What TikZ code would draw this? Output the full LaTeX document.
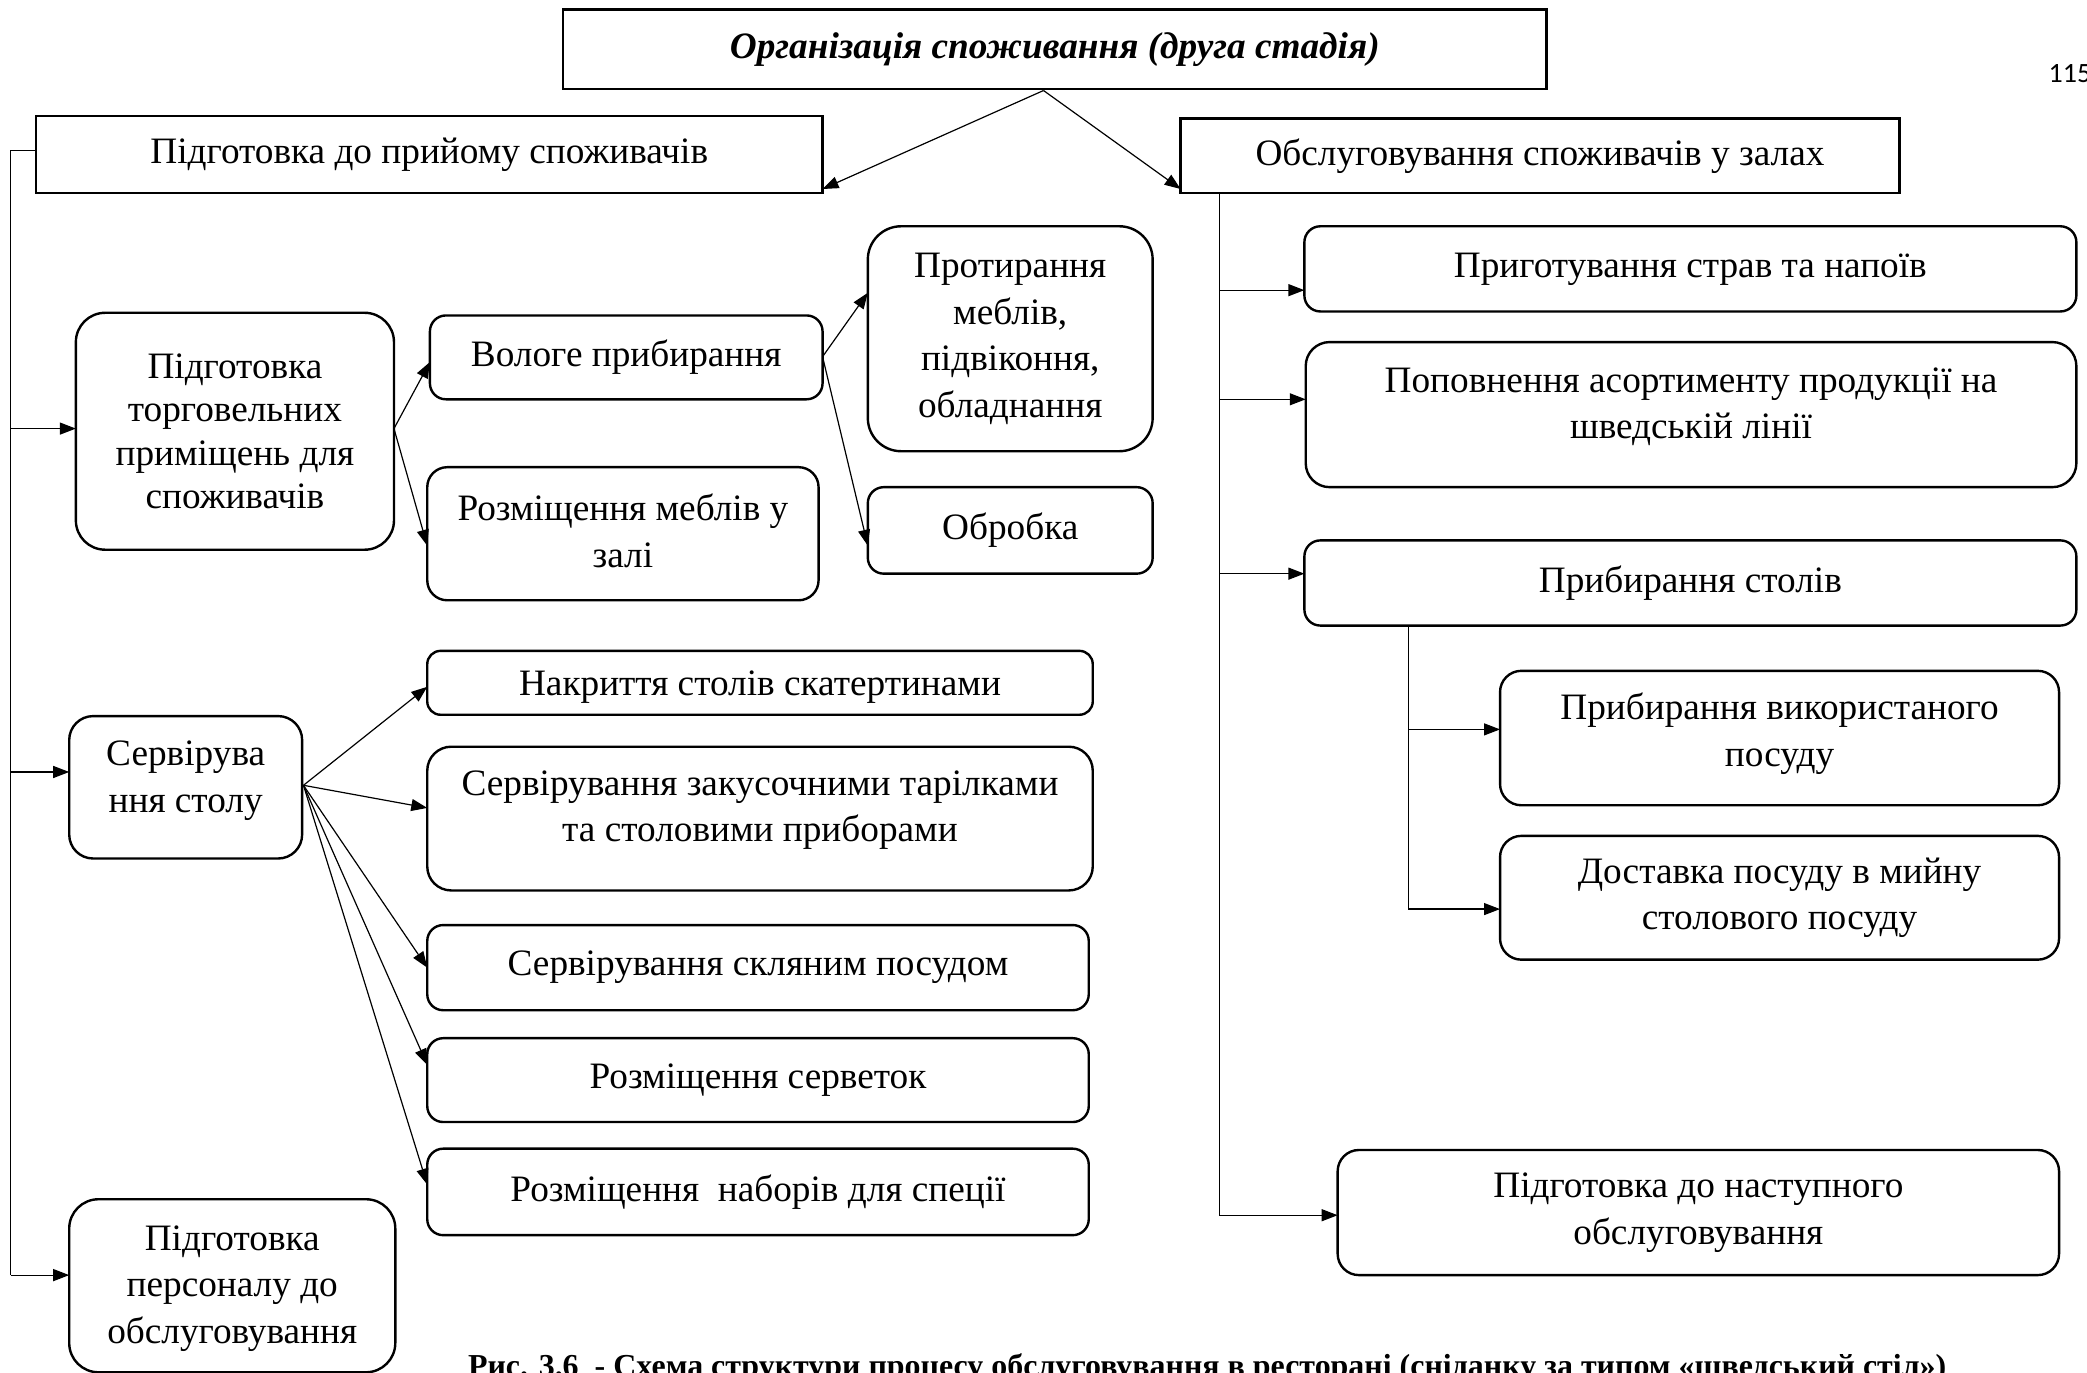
\documentclass[tikz,border=0pt]{standalone}
\usepackage{fontspec}
\setmainfont{Liberation Serif}
\newfontfamily\pgfont{Carlito}
\usetikzlibrary{arrows.meta}
\begin{document}
\begin{tikzpicture}[x=1pt,y=-1pt,
  box/.style={draw, line width=1.8pt, align=center, inner sep=0pt, outer sep=0pt,
    font=\fontsize{28}{35}\selectfont},
  txt/.style={align=center, inner sep=0pt, font=\fontsize{28}{35}\selectfont},
  arr/.style={line width=0.9pt, -{Triangle[length=12pt,width=9pt]}},
  ln/.style={line width=0.9pt}]
\useasboundingbox (0,0) rectangle (1568,1031);
\clip (0,0) rectangle (1568,1031);

% top
\node[box, minimum width=739pt, minimum height=60pt,
  font=\fontsize{28}{33}\selectfont\bfseries\itshape] (title) at (792.5,37)
  {Організація споживання (друга стадія)};
\node[anchor=base west, inner sep=0pt, font=\pgfont\fontsize{21}{25}\selectfont] (pg) at (1539,62) {115};

\node[box, minimum width=591pt, minimum height=58pt] (A) at (322.5,116) {Підготовка до прийому споживачів};
\node[box, minimum width=540pt, minimum height=56pt] (B) at (1157,117) {Обслуговування споживачів у залах};

\coordinate (top) at (784,68);
\draw[arr] (top) -- ([yshift=3pt]A.south east);
\draw[arr] (top) -- ([yshift=3pt]B.south west);

% left column
\node[box, rounded corners=22pt, minimum width=239pt, minimum height=178pt,
  font=\fontsize{28}{32.5}\selectfont] (C) at (176.5,324)
  {Підготовка\\торговельних\\приміщень для\\споживачів};
\node[box, rounded corners=12pt, minimum width=295pt, minimum height=63pt] (vol) at (470.5,268.5)
  {Вологе прибирання};
\node[box, rounded corners=15pt, minimum width=294pt, minimum height=100pt] (rozm) at (468,401) {};
\node[txt] (rozmT) at ([yshift=2pt]rozm.center) {Розміщення меблів у\\залі};
\node[box, rounded corners=25pt, minimum width=214pt, minimum height=169pt] (prot) at (759,254.5)
  {Протирання\\меблів,\\підвіконня,\\обладнання};
\node[box, rounded corners=12pt, minimum width=214pt, minimum height=65pt] (obr) at (759,398.5)
  {Обробка};

\node[box, rounded corners=18pt, minimum width=175pt, minimum height=107pt] (D) at (139.5,591.5) {};
\node[txt] (DT) at ([yshift=5pt]D.center) {Сервірува\\ння столу};
\node[box, rounded corners=10pt, minimum width=500pt, minimum height=48pt] (nak) at (571,513) {};
\node[txt] (nakT) at ([yshift=-3pt]nak.center) {Накриття столів скатертинами};
\node[box, rounded corners=18pt, minimum width=500pt, minimum height=108pt] (zak) at (571,615) {};
\node[txt] (zakT) at ([yshift=6.5pt]zak.center) {Сервірування закусочними тарілками\\та столовими приборами};
\node[box, rounded corners=12pt, minimum width=497pt, minimum height=64pt] (skl) at (569.5,727)
  {Сервірування скляним посудом};
\node[box, rounded corners=12pt, minimum width=497pt, minimum height=63pt] (ser) at (569.5,811.5)
  {Розміщення серветок};
\node[box, rounded corners=12pt, minimum width=497pt, minimum height=65pt] (nab) at (569.5,895.5)
  {Розміщення\ \ наборів для спеції};

\node[box, rounded corners=22pt, minimum width=245pt, minimum height=130pt] (E) at (174.5,966) {};
\node[txt] (ET) at ([yshift=-2pt]E.center) {Підготовка\\персоналу до\\обслуговування};

% left connectors
\coordinate (L0) at (8,113);
\coordinate (L1) at (8,958);
\draw[ln] (A.west |- L0) -- (L0) -- (L1);
\draw[arr] ([yshift=2pt]C.west -| L0) -- ([yshift=2pt]C.west);
\draw[arr] ([yshift=11.5pt]D.west -| L0) -- ([yshift=11.5pt]D.west);
\draw[arr] (L1) -- ([yshift=8pt]E.west);

\coordinate (cc) at ([yshift=2pt]C.east);
\draw[arr] (cc) -- ([yshift=-3.5pt]vol.west);
\draw[arr] (cc) -- ([yshift=-9pt]rozm.west);
\coordinate (vc) at (618,268);
\draw[arr] (vc) -- ([yshift=34.5pt]prot.west);
\draw[arr] (vc) -- ([yshift=-11.5pt]obr.west);

\coordinate (dc) at (228,590);
\draw[arr] (dc) -- ([yshift=-3pt]nak.west);
\draw[arr] (dc) -- ([yshift=8pt]zak.west);
\draw[arr] (dc) -- (skl.west);
\draw[arr] (dc) -- ([yshift=11.5pt]ser.west);
\draw[arr] (dc) -- ([yshift=5.5pt]nab.west);

% right column
\node[box, rounded corners=12pt, minimum width=580pt, minimum height=64pt] (prig) at (1270,202)
  {Приготування страв та напоїв};
\node[box, rounded corners=18pt, minimum width=579pt, minimum height=109pt] (pop) at (1270.5,311.5) {};
\node[txt] (popT) at ([yshift=6pt]pop.center) {Поповнення асортименту продукції на\\шведській лінії};
\node[box, rounded corners=12pt, minimum width=580pt, minimum height=64pt] (pribs) at (1270,438)
  {Прибирання столів};
\node[box, rounded corners=16pt, minimum width=420pt, minimum height=101pt] (pribv) at (1337,554.5) {};
\node[txt] (pribvT) at ([yshift=3.5pt]pribv.center) {Прибирання використаного\\посуду};
\node[box, rounded corners=16pt, minimum width=420pt, minimum height=93pt] (dost) at (1337,674.5)
  {Доставка посуду в мийну\\столового посуду};
\node[box, rounded corners=16pt, minimum width=542pt, minimum height=94pt] (nast) at (1276,911)
  {Підготовка до наступного\\обслуговування};

\coordinate (R0) at (916,146);
\coordinate (R1) at (916,913);
\draw[ln] (R0) -- (R1);
\draw[arr] ([yshift=-16pt]prig.west -| R0) -- ([yshift=-16pt]prig.west);
\draw[arr] ([yshift=11.5pt]pop.west -| R0) -- ([yshift=11.5pt]pop.west);
\draw[arr] ([yshift=7pt]pribs.west -| R0) -- ([yshift=7pt]pribs.west);
\draw[arr] (R1) -- ([yshift=-2pt]nast.west);

\coordinate (S0) at (1058,470);
\coordinate (S1) at (1058,683);
\draw[ln] (S0) -- (S1);
\draw[arr] ([yshift=6.5pt]pribv.west -| S0) -- ([yshift=6.5pt]pribv.west);
\draw[arr] (S1) -- ([yshift=-8.5pt]dost.west);

% caption
\node[anchor=base, inner sep=0pt, font=\fontsize{24}{28}\selectfont\bfseries] (cap) at (907,1034)
  {Рис. 3.6\ \ - Схема структури процесу обслуговування в ресторані (сніданку за типом «шведський стіл»)};
\end{tikzpicture}
\end{document}
